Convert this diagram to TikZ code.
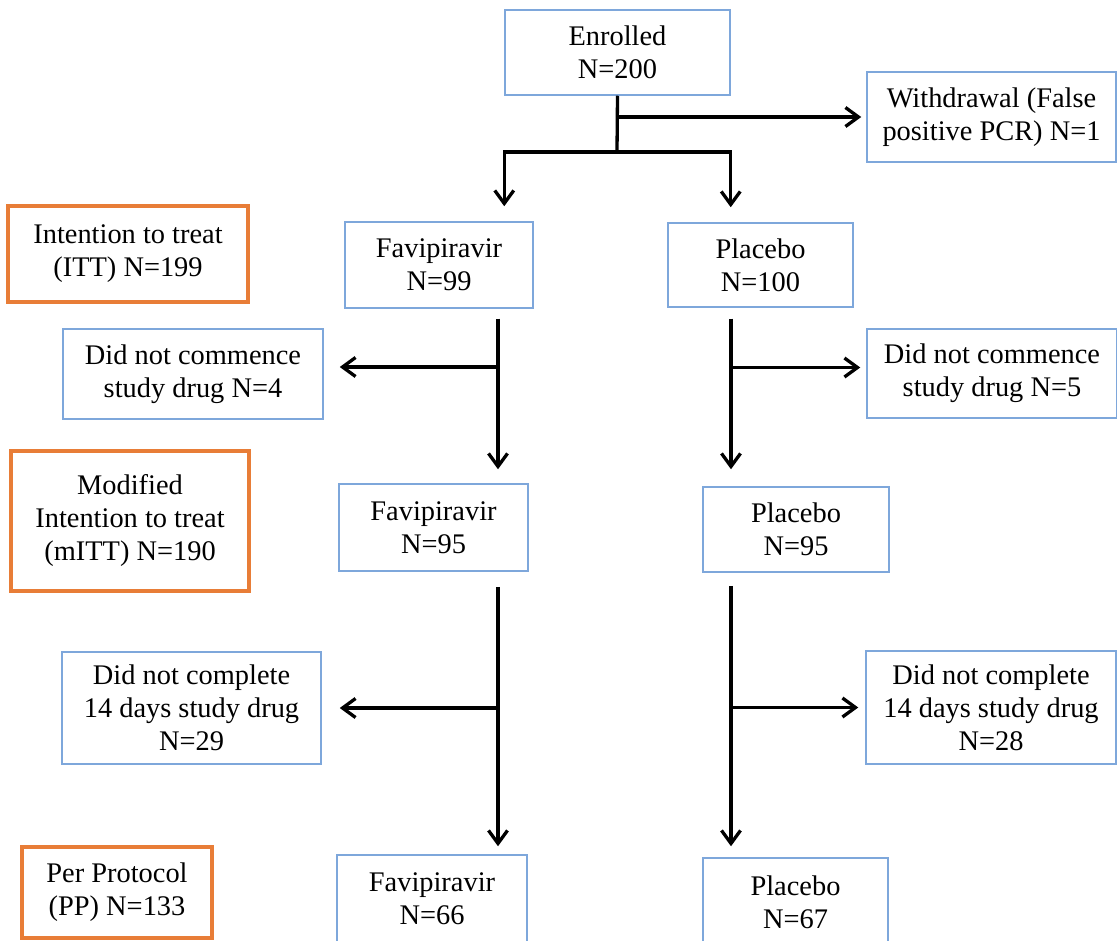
\documentclass[tikz,border=0pt]{standalone}
\usepackage{fontspec}
\setmainfont{Liberation Serif}
\usepackage{tikz}
\usetikzlibrary{arrows.meta, positioning}
\definecolor{boxblue}{RGB}{126,167,219}
\definecolor{boxorange}{RGB}{232,125,55}

\begin{document}
\begin{tikzpicture}[x=1pt, y=-1pt,
    every node/.style={font=\fontsize{28.4pt}{33pt}\selectfont, align=center, inner sep=0pt},
    arm/.style={draw=boxblue, line width=1.5pt},
    pop/.style={draw=boxorange, line width=4pt},
    link/.style={line width=3.3pt},
    flow/.style={line width=3.3pt, -{Straight Barb[length=13pt, width=19pt]}}]
\useasboundingbox (0,0) rectangle (1117,941);
%
% enrolment
\node[arm, minimum width=225pt, minimum height=85pt] (enr) at (617.5,52.5) {Enrolled\\N=200};
\node[arm, minimum width=249pt, minimum height=90pt] (wd) at (991.5,117) {Withdrawal (False\\positive PCR) N=1};
%
% populations
\node[pop, minimum width=240pt, minimum height=96pt] (itt) at (128,254) {Intention to treat\\(ITT) N=199};
\node[pop, minimum width=238pt, minimum height=140pt] (mitt) at (130,521) {Modified\\Intention to treat\\(mITT) N=190};
\node[pop, minimum width=190pt, minimum height=91pt] (pp) at (117,892.5) {Per Protocol\\(PP) N=133};
%
% arms
\node[arm, minimum width=188pt, minimum height=86pt] (fav1) at (439,265) {Favipiravir\\N=99};
\node[arm, minimum width=185pt, minimum height=84pt] (plac1) at (760.5,265) {Placebo\\N=100};
\node[arm, minimum width=189pt, minimum height=87pt] (fav2) at (433.5,527.5) {Favipiravir\\N=95};
\node[arm, minimum width=186pt, minimum height=85pt] (plac2) at (796,529.5) {Placebo\\N=95};
\node[arm, minimum width=190pt, minimum height=88pt] (fav3) at (432,899) {Favipiravir\\N=66};
\node[arm, minimum width=185pt, minimum height=88pt] (plac3) at (795.5,902) {Placebo\\N=67};
%
% exclusions
\node[arm, minimum width=260pt, minimum height=90pt] (dnc1) at (193,374) {Did not commence\\study drug N=4};
\node[arm, minimum width=250pt, minimum height=89pt] (dnc2) at (992,373.5) {Did not commence\\study drug N=5};
\node[arm, minimum width=259pt, minimum height=112pt] (dcp1) at (191.5,708) {Did not complete\\14 days study drug\\N=29};
\node[arm, minimum width=250pt, minimum height=113pt] (dcp2) at (991,707.5) {Did not complete\\14 days study drug\\N=28};
%
\coordinate (split) at (617,152);
\coordinate (fcol) at (498,0);
\coordinate (pcol) at (731,0);
\coordinate (dnc1in) at ([yshift=7pt]dnc1.east);
\coordinate (dnc2in) at ([yshift=6pt]dnc2.west);
%
\draw[link] (enr.south) -- (split);
\draw[flow, shorten >=5pt] (enr.south |- wd.west) -- (wd.west);
\draw[flow, shorten >=15pt] (split) -| (enr.west |- fav1.north);
\draw[flow, shorten >=15pt] (split) -| (enr.east |- plac1.north);
%
\draw[flow, shorten <=10pt, shorten >=14pt] (fcol |- fav1.south) -- (fcol |- fav2.north);
\draw[flow, shorten <=11pt, shorten >=17pt] (pcol |- plac1.south) -- (pcol |- plac2.north);
\draw[flow, shorten >=16pt] (fcol |- dnc1in) -- (dnc1in);
\draw[flow, shorten >=6pt] (pcol |- dnc2in) -- (dnc2in);
%
\draw[flow, shorten <=15pt, shorten >=8pt] (fcol |- fav2.south) -- (fcol |- fav3.north);
\draw[flow, shorten <=13pt, shorten >=11pt] (pcol |- plac2.south) -- (pcol |- plac3.north);
\draw[flow, shorten >=18pt] (fcol |- dcp1.east) -- (dcp1.east);
\draw[flow, shorten >=7pt] (pcol |- dcp2.west) -- (dcp2.west);
%
\end{tikzpicture}
\end{document}
